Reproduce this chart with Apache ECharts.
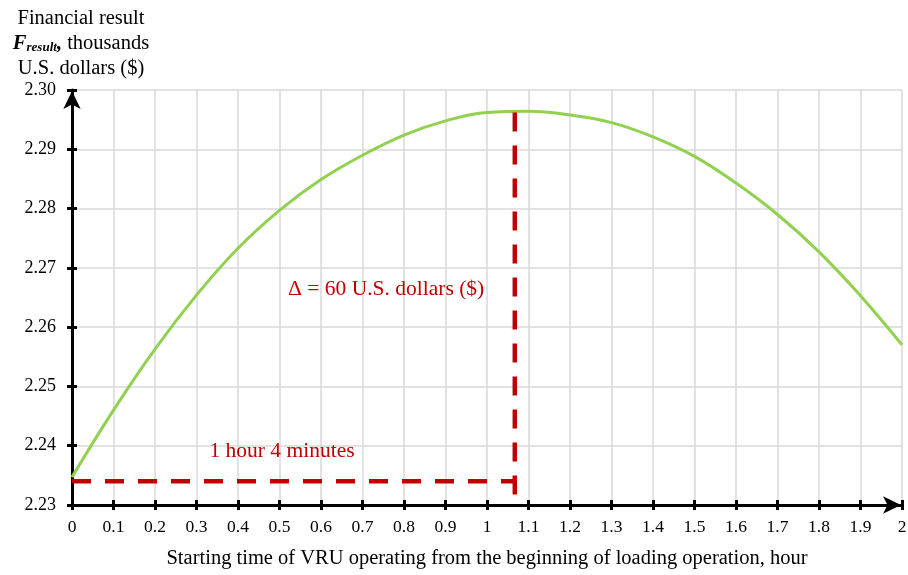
<!DOCTYPE html>
<html><head><meta charset="utf-8">
<script src="https://cdn.jsdelivr.net/npm/echarts@6/dist/echarts.min.js"></script>
<style>html,body{margin:0;padding:0;background:#fff}#c{width:908px;height:575px}</style>
</head><body><div id="c"></div>
<script>
// ---- data ----
const hours = [0, 0.1, 0.2, 0.3, 0.4, 0.5, 0.6, 0.7, 0.8, 0.9, 1.0, 1.1, 1.2, 1.3, 1.4, 1.5, 1.6, 1.7, 1.8, 1.9, 2.0];
const financialResult = [2.2347, 2.2460, 2.2563, 2.2654, 2.2733, 2.2797, 2.2849, 2.2890, 2.2924, 2.2948, 2.2962, 2.2964, 2.2958, 2.2945, 2.2921, 2.2888, 2.2843, 2.2790, 2.2727, 2.2653, 2.2570];
const optimumHour = 1.067;        // 1 hour 4 minutes
const optimumValue = 2.2962;
const startValue = 2.234;
const verticalBottom = 2.2317;
const deltaLabel = 'Δ = 60 U.S. dollars ($)';
const deltaLabelAt = [0.757, 2.2664];
const timeLabel = '1 hour 4 minutes';
const timeLabelAt = [0.506, 2.2391];
const xMin = 0, xMax = 2, xStep = 0.1;
const yMin = 2.23, yMax = 2.30, yStep = 0.01;
const xTitle = 'Starting time of VRU operating from the beginning of loading operation, hour';
const yTitle = 'Financial result\n{fb|F}{fs|result}{fb|,}{n| thousands}\nU.S. dollars ($)';

const FONT = 'Liberation Serif';
const RED = '#c00000';
const chart = echarts.init(document.getElementById('c'), null, {renderer: 'canvas'});

chart.setOption({
  animation: false,
  backgroundColor: '#fff',
  grid: {left: 72, right: 6, top: 90, bottom: 70, containLabel: false, outerBoundsMode: 'none'},
  xAxis: [{
    type: 'value', min: xMin, max: xMax, interval: xStep,
    name: xTitle, nameLocation: 'middle', nameGap: 43,
    nameTextStyle: {fontFamily: FONT, fontSize: 20.5, color: '#000'},
    axisLine: {show: true, onZero: false, symbol: ['none', 'arrow'], symbolSize: [13, 18], symbolOffset: [0, -1], lineStyle: {color: '#000', width: 3}},
    axisTick: {show: true, inside: false, length: 5, lineStyle: {color: '#000', width: 3}},
    axisLabel: {fontFamily: FONT, fontSize: 17.5, color: '#000', margin: 13},
    splitLine: {show: true, lineStyle: {color: '#d9d9d9', width: 1.5}}
  }, {
    type: 'value', min: xMin, max: xMax, interval: xStep, position: 'bottom', gridIndex: 0,
    axisLine: {show: false},
    axisTick: {show: true, inside: true, length: 5, lineStyle: {color: '#000', width: 3}},
    axisLabel: {show: false}, splitLine: {show: false}
  }],
  yAxis: [{
    type: 'value', min: yMin, max: yMax, interval: yStep,
    name: yTitle, nameLocation: 'end', nameGap: 9,
    nameTextStyle: {fontFamily: FONT, fontSize: 20.5, color: '#000', align: 'center', lineHeight: 25, padding: [0, 0, 0, 18],
      rich: {
        fb: {fontFamily: FONT, fontSize: 20.5, fontWeight: 'bold', fontStyle: 'italic', color: '#000'},
        fs: {fontFamily: FONT, fontSize: 13, fontWeight: 'bold', fontStyle: 'italic', color: '#000', padding: [9, 0, 0, 0]},
        n: {fontFamily: FONT, fontSize: 20.5, color: '#000'}
      }},
    axisLine: {show: true, onZero: false, symbol: ['none', 'arrow'], symbolSize: [13, 18], symbolOffset: [0, -1], lineStyle: {color: '#000', width: 3}},
    axisTick: {show: true, inside: false, length: 5, lineStyle: {color: '#000', width: 3}},
    axisLabel: {fontFamily: FONT, fontSize: 18, color: '#000', margin: 16, formatter: v => v.toFixed(2)},
    splitLine: {show: true, lineStyle: {color: '#d9d9d9', width: 1.5}}
  }, {
    type: 'value', min: yMin, max: yMax, interval: yStep, position: 'left',
    axisLine: {show: false},
    axisTick: {show: true, inside: true, length: 5, lineStyle: {color: '#000', width: 3}},
    axisLabel: {show: false}, splitLine: {show: false}
  }],
  series: [
    {
      type: 'line', name: 'result', smooth: 0.4, showSymbol: false, symbol: 'none',
      data: hours.map((h, i) => [h, financialResult[i]]),
      lineStyle: {color: '#92d050', width: 3}, z: 3
    },
    {
      type: 'line', symbol: 'none', showSymbol: false,
      data: [[xMin, startValue], [optimumHour, startValue]],
      lineStyle: {color: RED, width: 4.5, type: [19, 14], cap: 'butt'}, z: 4
    },
    {
      type: 'line', symbol: 'none', showSymbol: false,
      data: [[optimumHour, optimumValue], [optimumHour, verticalBottom]],
      lineStyle: {color: RED, width: 4.5, type: [19, 14], cap: 'butt'}, z: 4
    },
    {
      type: 'scatter', symbolSize: 0, itemStyle: {opacity: 1},
      data: [
        {value: deltaLabelAt, label: {formatter: deltaLabel}},
        {value: timeLabelAt, label: {formatter: timeLabel}}
      ],
      label: {show: true, position: 'inside', fontFamily: FONT, fontSize: 21.5, color: RED, opacity: 1},
      z: 5
    }
  ]
});
</script>
</body></html>
